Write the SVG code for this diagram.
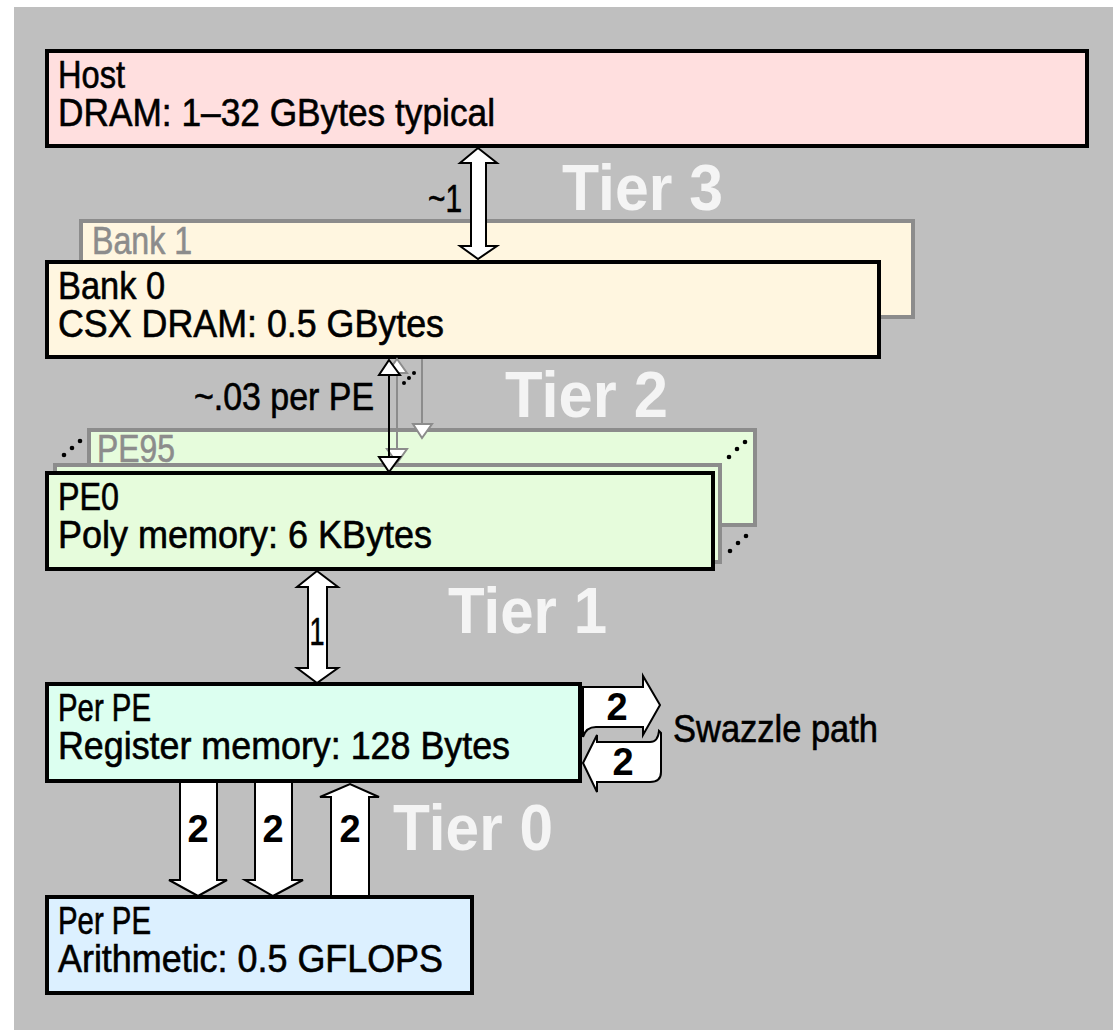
<svg xmlns="http://www.w3.org/2000/svg" width="1113" height="1030" viewBox="0 0 1113 1030">
<style>
.t{font-family:"Liberation Sans",Arial,sans-serif;font-size:38px;fill:#000;stroke:#000;stroke-width:0.6}
.g{font-family:"Liberation Sans",Arial,sans-serif;font-size:38px;fill:#8c8c8c;stroke:#8c8c8c;stroke-width:0.6}
.tier{font-family:"Liberation Sans",Arial,sans-serif;font-size:65px;font-weight:bold;fill:#f4f4f4}
.n{font-family:"Liberation Sans",Arial,sans-serif;font-size:38px;font-weight:bold;fill:#000;text-anchor:middle}
.box{stroke:#000;stroke-width:4}
.back{stroke:#8c8c8c;stroke-width:4}
.blk{fill:#fff;stroke:#000;stroke-width:2;stroke-linejoin:miter}
.garr{fill:#fff;stroke:#8c8c8c;stroke-width:2}
.dot{fill:#000}
</style>
<rect x="0" y="0" width="1113" height="1030" fill="#fff"/>
<rect x="14" y="7" width="1099" height="1023" fill="#bfbfbf"/>

<g id="host">
<rect class="box" x="47" y="51" width="1040" height="95" fill="#ffdfdf"/>
<text class="t" x="58" y="88" textLength="67" lengthAdjust="spacingAndGlyphs">Host</text>
<text class="t" x="58" y="126" textLength="437" lengthAdjust="spacingAndGlyphs">DRAM: 1–32 GBytes typical</text>
</g>

<g id="bank1">
<rect class="back" x="81" y="221" width="832" height="96" fill="#fff6e0"/>
<text class="g" x="92" y="254" textLength="100" lengthAdjust="spacingAndGlyphs">Bank 1</text>
</g>

<g id="bank0">
<rect class="box" x="47" y="262" width="832" height="95" fill="#fff6e0"/>
<text class="t" x="58" y="299" textLength="107" lengthAdjust="spacingAndGlyphs">Bank 0</text>
<text class="t" x="58" y="337" textLength="386" lengthAdjust="spacingAndGlyphs">CSX DRAM: 0.5 GBytes</text>
</g>

<g id="pe95">
<rect class="back" x="89" y="430" width="666" height="95" fill="#e6fcdc"/>
<text class="g" x="97" y="462" textLength="78" lengthAdjust="spacingAndGlyphs">PE95</text>
</g>

<g id="connectors-back">
<line x1="422" y1="359" x2="422" y2="424" stroke="#8c8c8c" stroke-width="2"/>
<polygon class="garr" points="413,424 432,424 422,438"/>
</g>

<g id="pe-mid">
<rect class="back" x="55" y="465" width="665" height="97" fill="#e6fcdc"/>
</g>

<g id="connectors-back2">
<line x1="397" y1="370" x2="397" y2="452" stroke="#8c8c8c" stroke-width="2"/>
<polygon class="garr" points="397,359 407,373 387,373"/>
<polygon class="garr" points="387,449 407,449 397,463"/>
</g>

<g id="pe0">
<rect class="box" x="47" y="473" width="666" height="96" fill="#e6fcdc"/>
<text class="t" x="58" y="510" textLength="61" lengthAdjust="spacingAndGlyphs">PE0</text>
<text class="t" x="58" y="548" textLength="374" lengthAdjust="spacingAndGlyphs">Poly memory: 6 KBytes</text>
</g>

<g id="register">
<rect class="box" x="47" y="684" width="533" height="97" fill="#dcfff0"/>
<text class="t" x="58" y="721" textLength="93" lengthAdjust="spacingAndGlyphs">Per PE</text>
<text class="t" x="58" y="759" textLength="452" lengthAdjust="spacingAndGlyphs">Register memory: 128 Bytes</text>
</g>

<g id="arith">
<rect class="box" x="47" y="897" width="425" height="96" fill="#dcf0ff"/>
<text class="t" x="58" y="934" textLength="93" lengthAdjust="spacingAndGlyphs">Per PE</text>
<text class="t" x="58" y="972" textLength="385" lengthAdjust="spacingAndGlyphs">Arithmetic: 0.5 GFLOPS</text>
</g>

<g id="connectors">
<polygon class="blk" points="478,148 497,163 486,163 486,246 497,246 478,259 460,246 471,246 471,163 460,163"/>
<line x1="389" y1="374" x2="389" y2="458" stroke="#000" stroke-width="2"/>
<polygon class="blk" points="389,360 400,375 379,375"/>
<polygon class="blk" points="379,457 400,457 389,472"/>
<polygon class="blk" points="317,571 338,587 327,587 327,668 338,668 317,683 297,668 308,668 308,587 297,587"/>
<polygon class="blk" points="180,782 217,782 217,880 227,880 198,896 169,880 180,880"/>
<polygon class="blk" points="255,782 292,782 292,880 303,880 273,896 245,880 255,880"/>
<polygon class="blk" points="331,896 369,896 369,797 379,797 350,784 320,797 331,797"/>
<path class="blk" d="M583,687 H643 V676 L660,705 L643,735 V727 H596 Q586,727 583,737 Z"/>
<path class="blk" d="M597,742 H650 Q658,742 659,731 L661,733 V772 Q661,782 650,782 H597 V792 L583,763 L597,735 Z"/>
</g>

<g id="labels">
<text class="t" x="428" y="212" textLength="34" lengthAdjust="spacingAndGlyphs">~1</text>
<text class="t" x="194" y="410" textLength="180" lengthAdjust="spacingAndGlyphs">~.03 per PE</text>
<text class="t" x="317" y="645" text-anchor="middle" textLength="15" lengthAdjust="spacingAndGlyphs">1</text>
<text class="n" x="198" y="842">2</text>
<text class="n" x="273" y="842">2</text>
<text class="n" x="350" y="842">2</text>
<text class="n" x="617" y="720">2</text>
<text class="n" x="623" y="775">2</text>
<text class="t" x="673" y="742" textLength="205" lengthAdjust="spacingAndGlyphs">Swazzle path</text>
<text class="tier" x="562" y="210" textLength="161" lengthAdjust="spacingAndGlyphs">Tier 3</text>
<text class="tier" x="505" y="417" textLength="163" lengthAdjust="spacingAndGlyphs">Tier 2</text>
<text class="tier" x="448" y="633" textLength="159" lengthAdjust="spacingAndGlyphs">Tier 1</text>
<text class="tier" x="393" y="850" textLength="160" lengthAdjust="spacingAndGlyphs">Tier 0</text>
</g>

<g id="dots">
<circle class="dot" cx="404" cy="383" r="2"/><circle class="dot" cx="409" cy="378" r="2"/><circle class="dot" cx="414" cy="373" r="2"/>
<circle class="dot" cx="64" cy="455" r="2.3"/><circle class="dot" cx="72" cy="448" r="2.3"/><circle class="dot" cx="80" cy="441" r="2.3"/>
<circle class="dot" cx="729" cy="457" r="2.3"/><circle class="dot" cx="737" cy="449" r="2.3"/><circle class="dot" cx="745" cy="442" r="2.3"/>
<circle class="dot" cx="730" cy="551" r="2.3"/><circle class="dot" cx="738" cy="543" r="2.3"/><circle class="dot" cx="746" cy="536" r="2.3"/>
</g>
</svg>
